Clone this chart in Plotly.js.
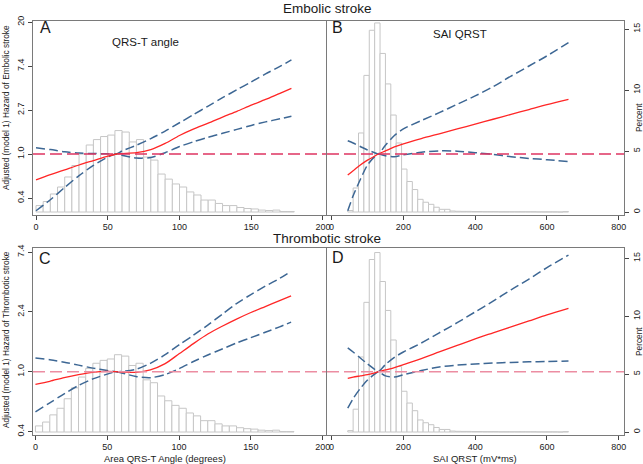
<!DOCTYPE html>
<html><head><meta charset="utf-8">
<script src="https://cdn.plot.ly/plotly-3.0.1.min.js"></script>
<style>html,body{margin:0;padding:0;background:#fff}#chart{width:643px;height:464px}</style>
</head><body><div id="chart"></div>
<script>
// ---- histogram data (percent of patients) ----
const angleBins = [2.5,7.5,12.5,17.5,22.5,27.5,32.5,37.5,42.5,47.5,52.5,57.5,62.5,67.5,72.5,77.5,82.5,87.5,92.5,97.5,102.5,107.5,112.5,117.5,122.5,127.5,132.5,137.5,142.5,147.5,152.5,157.5,162.5,167.5,172.5,177.5];
const anglePct = [0.57,0.93,1.60,2.22,3.11,4.13,5.14,5.95,6.43,6.70,6.83,7.23,7.10,6.22,6.43,4.88,4.61,3.37,2.92,2.49,2.22,1.78,1.51,1.06,1.06,0.76,0.57,0.57,0.40,0.31,0.27,0.17,0.13,0.17,0.04,0.04];
const saiBins = [52.5,67.5,82.5,97.5,112.5,127.5,142.5,157.5,172.5,187.5,202.5,217.5,232.5,247.5,262.5,277.5,292.5,307.5,322.5,337.5,352.5,367.5,382.5,397.5,412.5,427.5,442.5,457.5,472.5,487.5,502.5,517.5,532.5,547.5,562.5,577.5,592.5,607.5,622.5,637.5,652.5];
const saiPct = [0.12,1.97,6.48,11.2,14.9,15.5,13.0,10.5,7.95,5.66,3.52,2.5,1.84,1.04,0.80,0.63,0.39,0.22,0.22,0.08,0.06,0.05,0.05,0.04,0.04,0.03,0.03,0.03,0.02,0.02,0.02,0.02,0.02,0.02,0.02,0.01,0.01,0.01,0.01,0,0.03];

// ---- spline curves: log hazard ratio ----
const angleGrid = [0,10,20,30,40,50,56,60,70,80,90,100,110,120,130,140,150,160,170,178];
const embAngleHR    = [-0.59,-0.47,-0.36,-0.25,-0.15,-0.05,0,0.01,0.03,0.10,0.24,0.42,0.57,0.70,0.84,0.97,1.11,1.24,1.38,1.49];
const embAngleUpper = [0.14,0.10,0.05,0.02,0.01,0.005,0,0.07,0.20,0.35,0.52,0.71,0.90,1.09,1.28,1.46,1.64,1.82,1.99,2.14];
const embAngleLower = [-1.29,-1.04,-0.76,-0.49,-0.26,-0.07,0,-0.03,-0.09,-0.08,0.03,0.17,0.28,0.38,0.47,0.56,0.65,0.73,0.80,0.86];

const saiGrid = [45,60,80,100,120,130,150,175,200,250,300,350,400,450,500,550,600,660];
const embSaiHR    = [-0.48,-0.38,-0.25,-0.14,-0.05,0,0.07,0.16,0.23,0.35,0.46,0.57,0.68,0.79,0.90,1.01,1.12,1.24];
const embSaiUpper = [0.30,0.25,0.17,0.09,0.03,0,0.20,0.42,0.57,0.76,0.94,1.13,1.32,1.53,1.77,2.00,2.23,2.53];
const embSaiLower = [-1.29,-0.95,-0.58,-0.25,-0.06,0,-0.04,-0.06,-0.02,0.04,0.07,0.065,0.03,-0.01,-0.06,-0.10,-0.13,-0.17];

const thrAngleHR    = [-0.21,-0.16,-0.10,-0.05,-0.01,0.005,0,-0.005,-0.01,0.03,0.13,0.30,0.47,0.63,0.76,0.88,0.99,1.09,1.19,1.27];
const thrAngleUpper = [0.23,0.20,0.16,0.11,0.06,0.02,0,0.005,0.04,0.14,0.28,0.45,0.61,0.78,0.96,1.14,1.29,1.43,1.56,1.68];
const thrAngleLower = [-0.67,-0.52,-0.37,-0.23,-0.12,-0.04,0,-0.02,-0.08,-0.10,-0.05,0.05,0.17,0.28,0.38,0.48,0.57,0.66,0.75,0.83];

const thrSaiHR    = [-0.11,-0.09,-0.07,-0.05,-0.02,0,0.03,0.07,0.12,0.22,0.33,0.44,0.55,0.65,0.75,0.85,0.95,1.06];
const thrSaiUpper = [0.40,0.33,0.23,0.13,0.04,0,0.12,0.24,0.33,0.48,0.65,0.82,1.00,1.18,1.37,1.55,1.74,1.95];
const thrSaiLower = [-0.61,-0.45,-0.28,-0.14,-0.04,0,-0.07,-0.09,-0.05,0.02,0.08,0.11,0.13,0.145,0.155,0.165,0.17,0.18];

// ---- tick labels ----
const angleTicks = [0,50,100,150,200];
const saiTicks = [0,200,400,600,800];
const pctTicks = [0,5,10,15];
const embHRTickVals = [-1,0,1,2,3];
const embHRTickText = ['0.4','1.0','2.7','7.4','20'];
const thrHRTickVals = [-1,0,1,2];
const thrHRTickText = ['0.4','1.0','2.4','7.4'];

const FONT = 'Liberation Sans, Arial, sans-serif';
const RED = '#ff2626', BLUE = '#3d6794';
const barStyle = {color:'#ffffff', line:{color:'#c6c6c6', width:1}};

function hist(x, y, w, xa, ya){
  return {type:'bar', x:x, y:y, width:w, xaxis:xa, yaxis:ya, marker:barStyle, hoverinfo:'skip'};
}
function curve(x, y, xa, ya, dashed){
  return {type:'scatter', mode:'lines', x:x, y:y, xaxis:xa, yaxis:ya,
    line: dashed ? {color:BLUE, width:1.5, dash:'9px,4px', shape:'spline', smoothing:0.8}
                 : {color:RED, width:1.3, shape:'spline', smoothing:0.8}};
}

const traces = [
  hist(angleBins, anglePct, 5, 'x', 'y'),
  hist(saiBins, saiPct, 15, 'x2', 'y2'),
  hist(angleBins, anglePct, 5, 'x3', 'y3'),
  hist(saiBins, saiPct, 15, 'x4', 'y4'),
  curve(angleGrid, embAngleUpper, 'x', 'y5', true),
  curve(angleGrid, embAngleLower, 'x', 'y5', true),
  curve(angleGrid, embAngleHR, 'x', 'y5', false),
  curve(saiGrid, embSaiUpper, 'x2', 'y6', true),
  curve(saiGrid, embSaiLower, 'x2', 'y6', true),
  curve(saiGrid, embSaiHR, 'x2', 'y6', false),
  curve(angleGrid, thrAngleUpper, 'x3', 'y7', true),
  curve(angleGrid, thrAngleLower, 'x3', 'y7', true),
  curve(angleGrid, thrAngleHR, 'x3', 'y7', false),
  curve(saiGrid, thrSaiUpper, 'x4', 'y8', true),
  curve(saiGrid, thrSaiLower, 'x4', 'y8', true),
  curve(saiGrid, thrSaiHR, 'x4', 'y8', false)
];

const W = 643, H = 464;
const px = v => v / W, py = v => 1 - v / H;
const tickFont = {family:FONT, size:9, color:'#222'};
const LINE = '#7a7a7a';

function xAx(dom, rng, ticks, anchor){
  return {domain:dom, range:rng, anchor:anchor, tickvals:ticks, ticks:'outside', ticklen:4, tickcolor:'#444',
    showline:true, linecolor:LINE, linewidth:1, mirror:true, showgrid:false, zeroline:false, tickfont:tickFont, fixedrange:true};
}
function hiddenY(dom, rng, anchor, extra){
  return Object.assign({domain:dom, range:rng, anchor:anchor, visible:false, showgrid:false, zeroline:false, fixedrange:true}, extra||{});
}
function label(text, x, y, size, angle){
  const a = {text:text, xref:'paper', yref:'paper', x:px(x), y:py(y), showarrow:false,
    xanchor:'center', yanchor:'middle', font:{family:FONT, size:size, color:'#1a1a1a'}};
  if (angle) a.textangle = angle;
  return a;
}
const topDom = [py(214.5), py(21)];
const botDom = [py(434.5), py(247.7)];
const leftDom = [px(33), px(326)];
const rightDom = [px(327), px(624)];

const layout = {
  width:W, height:H, margin:{l:0,r:0,t:0,b:0},
  paper_bgcolor:'#fff', plot_bgcolor:'rgba(0,0,0,0)', showlegend:false, bargap:0,
  font:{family:FONT, color:'#222'},
  xaxis: xAx(leftDom, [-2.1, 202.1], angleTicks, 'y'),
  xaxis2: xAx(rightDom, [-12.8, 814.7], saiTicks, 'y2'),
  xaxis3: xAx(leftDom, [-1.7, 202.3], angleTicks, 'y3'),
  xaxis4: xAx(rightDom, [-12.8, 814.7], saiTicks, 'y4'),
  yaxis: hiddenY(topDom, [-0.222, 16.96], 'x'),
  yaxis3: hiddenY(botDom, [-0.234, 17.24], 'x3'),
  yaxis2: {domain:topDom, range:[-0.205, 15.66], anchor:'x2', side:'right', tickvals:pctTicks, tickangle:-90,
    ticks:'outside', ticklen:4, tickcolor:'#444', showline:true, linecolor:LINE, mirror:true, showgrid:false, zeroline:false, tickfont:tickFont, fixedrange:true},
  yaxis4: {domain:botDom, range:[-0.216, 15.92], anchor:'x4', side:'right', tickvals:pctTicks, tickangle:-90,
    ticks:'outside', ticklen:4, tickcolor:'#444', showline:true, linecolor:LINE, mirror:true, showgrid:false, zeroline:false, tickfont:tickFont, fixedrange:true},
  yaxis5: {overlaying:'y', anchor:'x', side:'left', range:[-1.375, 3.023], tickvals:embHRTickVals, ticktext:embHRTickText, tickangle:-90,
    ticks:'outside', ticklen:4, tickcolor:'#444', showline:true, linecolor:LINE, mirror:true, showgrid:false, zeroline:false, tickfont:tickFont, fixedrange:true},
  yaxis6: hiddenY(topDom, [-1.375, 3.023], 'x2', {overlaying:'y2'}),
  yaxis7: {overlaying:'y3', anchor:'x3', side:'left', range:[-1.050, 2.074], tickvals:thrHRTickVals, ticktext:thrHRTickText, tickangle:-90,
    ticks:'outside', ticklen:4, tickcolor:'#444', showline:true, linecolor:LINE, mirror:true, showgrid:false, zeroline:false, tickfont:tickFont, fixedrange:true},
  yaxis8: hiddenY(botDom, [-1.050, 2.074], 'x4', {overlaying:'y4'}),
  shapes: [
    {type:'line', xref:'x domain', x0:0, x1:1, yref:'y5', y0:0, y1:0, line:{color:'#de3462', width:1.3, dash:'12px,5px'}},
    {type:'line', xref:'x2 domain', x0:0, x1:1, yref:'y6', y0:0, y1:0, line:{color:'#de3462', width:1.3, dash:'12px,5px'}},
    {type:'line', xref:'x3 domain', x0:0, x1:1, yref:'y7', y0:0, y1:0, line:{color:'#ec8da2', width:1.6, dash:'12px,5px'}},
    {type:'line', xref:'x4 domain', x0:0, x1:1, yref:'y8', y0:0, y1:0, line:{color:'#ec8da2', width:1.6, dash:'12px,5px'}}
  ],
  annotations: [
    label('Embolic stroke', 327, 9, 13.5),
    label('Thrombotic stroke', 327, 238, 13.5),
    label('A', 45, 28, 16),
    label('B', 337, 27, 16),
    label('C', 45, 258, 16),
    label('D', 337.5, 257, 16),
    label('QRS-T angle', 145.5, 42, 11.5),
    label('SAI QRST', 460, 34, 11.5),
    label('Adjusted (model 1) Hazard of Embolic stroke', 6, 108, 8.3, -90),
    label('Adjusted (model 1) Hazard of Thrombotic stroke', 6, 340, 8.3, -90),
    label('Percent', 639, 118, 8.3, -90),
    label('Percent', 639, 342, 8.3, -90),
    label('Area QRS-T Angle (degrees)', 165, 458, 9.5),
    label('SAI QRST (mV*ms)', 475, 458, 9.5)
  ]
};

Plotly.newPlot('chart', traces, layout, {staticPlot:true, displayModeBar:false});
</script>
</body></html>
